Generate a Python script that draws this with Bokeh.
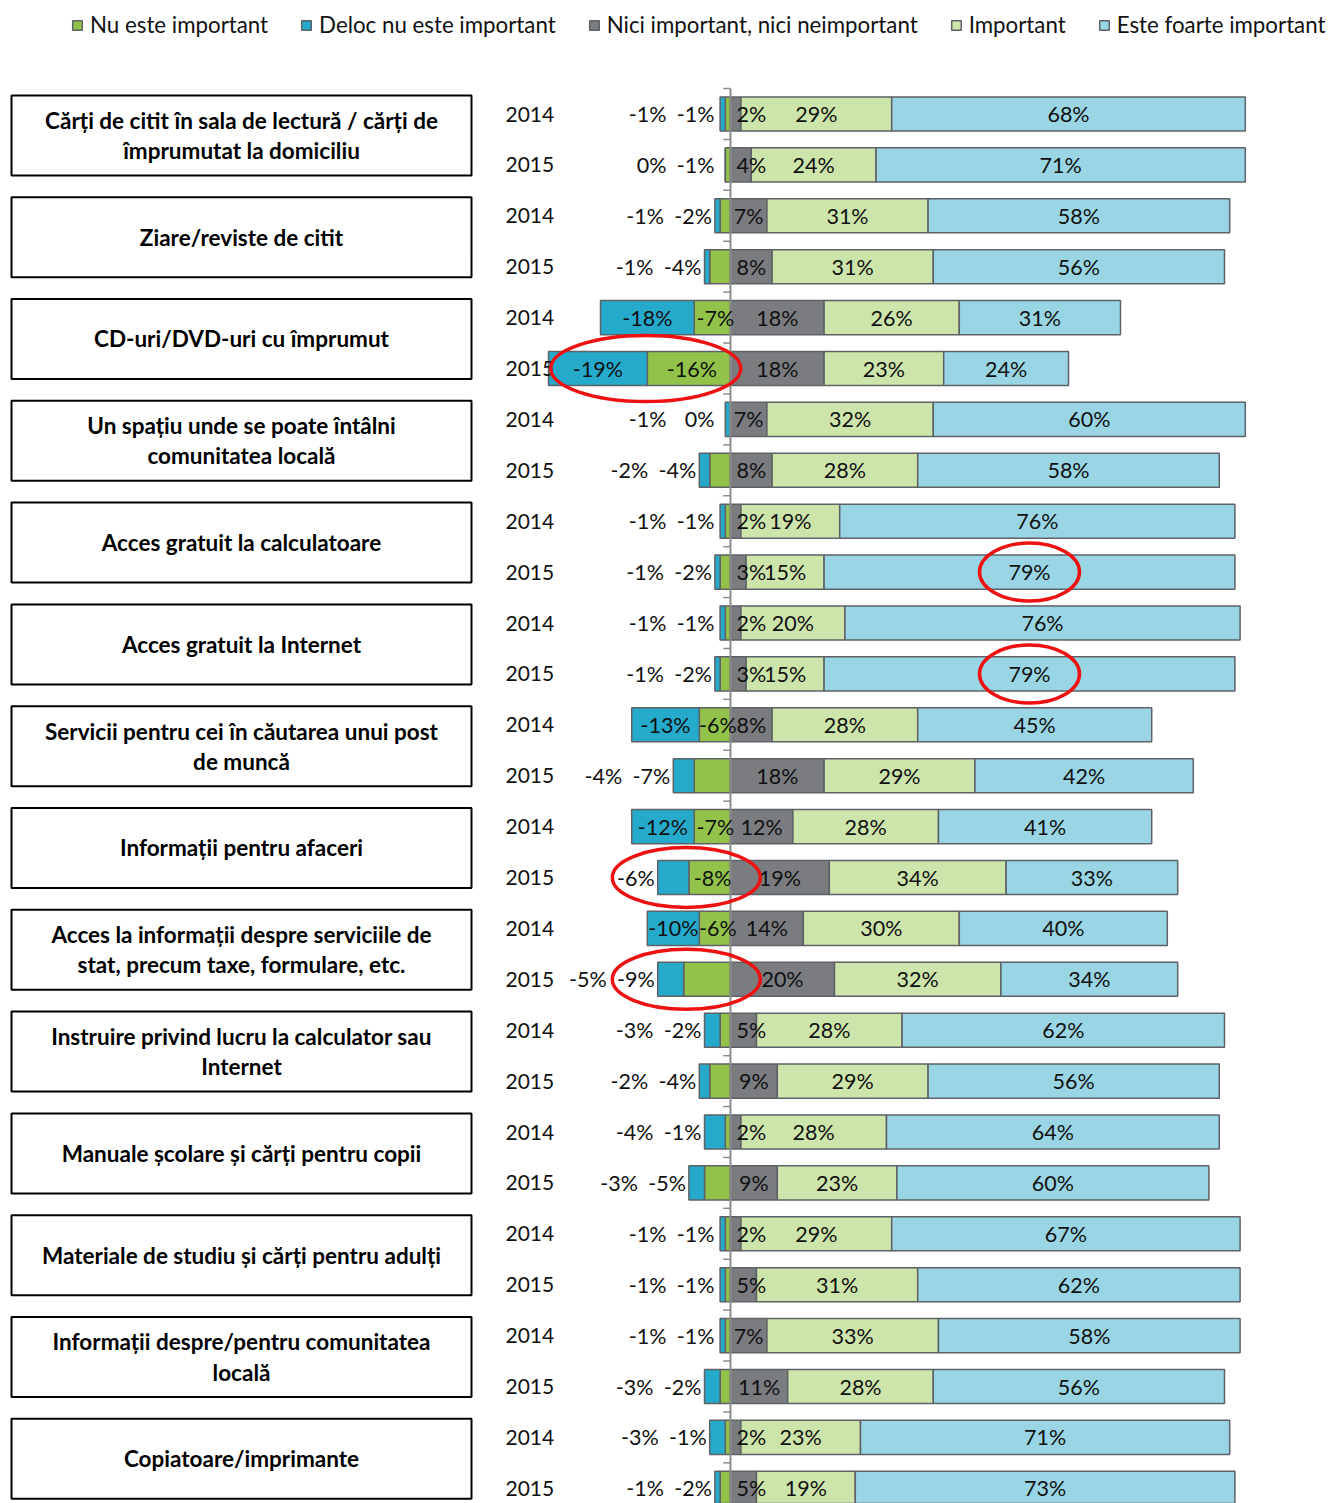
import numpy as np
from bokeh.plotting import figure
from bokeh.models import Range1d, Legend, LegendItem
from bokeh.core.properties import value
from bokeh.embed import file_html
from bokeh.resources import INLINE

# ---------------- data ----------------
categories = [
    "Cărți de citit în sala de lectură / cărți de\nîmprumutat la domiciliu",
    "Ziare/reviste de citit",
    "CD-uri/DVD-uri cu împrumut",
    "Un spațiu unde se poate întâlni\ncomunitatea locală",
    "Acces gratuit la calculatoare",
    "Acces gratuit la Internet",
    "Servicii pentru cei în căutarea unui post\nde muncă",
    "Informații pentru afaceri",
    "Acces la informații despre serviciile de\nstat, precum taxe, formulare, etc.",
    "Instruire privind lucru la calculator sau\nInternet",
    "Manuale școlare și cărți pentru copii",
    "Materiale de studiu și cărți pentru adulți",
    "Informații despre/pentru comunitatea\nlocală",
    "Copiatoare/imprimante",
]
years = ["2014", "2015"]

series_names = ["Nu este important", "Deloc nu este important",
                "Nici important, nici neimportant", "Important", "Este foarte important"]

# one value per bar: category order, 2014 then 2015
deloc = [-1, 0, -1, -1, -18, -19, -1, -2, -1, -1, -1, -1, -13, -4,
         -12, -6, -10, -5, -3, -2, -4, -3, -1, -1, -1, -3, -3, -1]
nu = [-1, -1, -2, -4, -7, -16, 0, -4, -1, -2, -1, -2, -6, -7,
      -7, -8, -6, -9, -2, -4, -1, -5, -1, -1, -1, -2, -1, -2]
nici = [2, 4, 7, 8, 18, 18, 7, 8, 2, 3, 2, 3, 8, 18,
        12, 19, 14, 20, 5, 9, 2, 9, 2, 5, 7, 11, 2, 5]
important = [29, 24, 31, 31, 26, 23, 32, 28, 19, 15, 20, 15, 28, 29,
             28, 34, 30, 32, 28, 29, 28, 23, 29, 31, 33, 28, 23, 19]
foarte = [68, 71, 58, 56, 31, 24, 60, 58, 76, 79, 76, 79, 45, 42,
          41, 33, 40, 34, 62, 56, 64, 60, 67, 62, 58, 56, 71, 73]

# highlighted bars (red ellipses): (bar index, side)
highlights = [(5, "neg"), (9, "pos"), (11, "pos"), (15, "neg"), (17, "neg")]

# ---------------- layout constants ----------------
W, H = 1331, 1503
PX_PER_PCT = 5.2
CENTER_PX = 730
ROW_PX = 50.9
FIRST_ROW_PX = 113.5

def dx(px):
    return (px - CENTER_PX) / PX_PER_PCT

C_NU = "#92C24A"
C_DELOC = "#25AACB"
C_NICI = "#7A7C80"
C_IMP = "#CDE4AB"
C_FOARTE = "#9AD5E5"
EDGE = "#5E6266"
RED = "#EE1111"
FONT = "Lato"

p = figure(width=W, height=H,
           x_range=Range1d(-CENTER_PX / PX_PER_PCT, (W - CENTER_PX) / PX_PER_PCT),
           y_range=Range1d((H - FIRST_ROW_PX) / ROW_PX, -FIRST_ROW_PX / ROW_PX),
           x_axis_type=None, y_axis_type=None, toolbar_location=None,
           output_backend="svg", min_border=0, outline_line_color=None,
           background_fill_color="white")

n_bars = len(deloc)
rows = np.arange(n_bars)
b = np.array(deloc, dtype=float)
g = np.array(nu, dtype=float)
n = np.array(nici, dtype=float)
im = np.array(important, dtype=float)
f = np.array(foarte, dtype=float)

# category boxes
n_cat = len(categories)
box_y = [2 * k + 0.42 for k in range(n_cat)]
box_x = [dx(241)] * n_cat
p.rect(x=box_x, y=box_y, width=460, height=80, width_units="screen", height_units="screen",
       fill_color="white", line_color="black", line_width=2)
p.text(x=box_x, y=box_y, text=categories, text_align="center", text_baseline="middle",
       text_font=value(FONT), text_font_style="bold", text_font_size="22.5px",
       text_line_height=1.12, text_color="black")

# bars
BH = 0.67
kw = dict(height=BH, line_color=EDGE, line_width=1.5)
r_nu = p.hbar(y=rows, left=0, right=g, fill_color=C_NU, **kw)
r_deloc = p.hbar(y=rows, left=g, right=g + b, fill_color=C_DELOC, **kw)
r_nici = p.hbar(y=rows, left=0, right=n, fill_color=C_NICI, **kw)
r_imp = p.hbar(y=rows, left=n, right=n + im, fill_color=C_IMP, **kw)
r_foarte = p.hbar(y=rows, left=n + im, right=n + im + f, fill_color=C_FOARTE, **kw)

# central axis with ticks between bars
p.segment(x0=[0], y0=[-0.5], x1=[0], y1=[n_bars + 0.5], line_color="#8C8C8C", line_width=2)
tick_y = np.arange(-0.5, n_bars, 1.0)
p.segment(x0=[-1.4] * len(tick_y), y0=tick_y, x1=[0] * len(tick_y), y1=tick_y,
          line_color="#8C8C8C", line_width=1.5)

# year labels
year_text = [years[i % 2] for i in range(n_bars)]
p.text(x=[dx(505)] * n_bars, y=rows, text=year_text, text_align="left", text_baseline="middle",
       text_font=value(FONT), text_font_size="21px", text_color="#111111")

def pct(v):
    return f"{int(v)}%"

lab_kw = dict(text_baseline="middle", text_font=value(FONT), text_font_size="21.5px",
              text_color="#111111")

# negative side labels
neg_tot = g + b
bx, gx, bal, gal, boff, goff = [], [], [], [], [], []
for k in range(n_bars):
    anchor = min(neg_tot[k], -2.5)
    both_in = neg_tot[k] <= -15
    green_in = both_in or (abs(g[k]) >= 8 and abs(b[k]) >= 6)
    if green_in:
        gx.append(g[k] / 2); gal.append("center"); goff.append(3)
    else:
        gx.append(anchor); gal.append("right"); goff.append(-3)
    if both_in:
        bx.append(g[k] + b[k] / 2); bal.append("center"); boff.append(0)
    elif green_in:
        bx.append(anchor); bal.append("right"); boff.append(-3)
    else:
        bx.append(anchor); bal.append("right"); boff.append(-51)
p.text(x=gx, y=rows, text=[pct(v) for v in g], text_align=gal, x_offset=goff, **lab_kw)
p.text(x=bx, y=rows, text=[pct(v) for v in b], text_align=bal, x_offset=boff, **lab_kw)

# positive side labels
nx, nal, noff = [], [], []
for k in range(n_bars):
    if n[k] >= 6:
        nx.append(n[k] / 2); nal.append("center"); noff.append(0)
    else:
        nx.append(0); nal.append("left"); noff.append(6)
p.text(x=nx, y=rows, text=[pct(v) for v in n], text_align=nal, x_offset=noff, **lab_kw)
p.text(x=n + im / 2, y=rows, text=[pct(v) for v in im], text_align="center", **lab_kw)
p.text(x=n + im + f / 2, y=rows, text=[pct(v) for v in f], text_align="center", **lab_kw)

# red ellipses
ex, ey, ew, eh = [], [], [], []
for k, side in highlights:
    ey.append(k)
    if side == "pos":
        ex.append(n[k] + im[k] + f[k] / 2); ew.append(100); eh.append(58)
    else:
        tot = neg_tot[k]
        if abs(tot) >= 15:
            ex.append(tot / 2 + 1.2); ew.append(abs(tot) * PX_PER_PCT + 8); eh.append(66)
        else:
            ex.append(tot / 2 - 1.5); ew.append(148); eh.append(60)
p.ellipse(x=ex, y=ey, width=ew, height=eh, width_units="screen", height_units="screen",
          fill_alpha=0, line_color=RED, line_width=3.5)

# legend
legend = Legend(items=[
    LegendItem(label=series_names[0], renderers=[r_nu]),
    LegendItem(label=series_names[1], renderers=[r_deloc]),
    LegendItem(label=series_names[2], renderers=[r_nici]),
    LegendItem(label=series_names[3], renderers=[r_imp]),
    LegendItem(label=series_names[4], renderers=[r_foarte]),
], orientation="horizontal", location=(71, H - 38), spacing=32, glyph_width=12, glyph_height=12,
    label_standoff=7, padding=0, margin=0, border_line_color=None, background_fill_alpha=0,
    label_text_font=FONT, label_text_font_size="22.3px", label_text_color="#111111")
p.add_layout(legend)

open("out.html", "w").write(file_html(p, INLINE))
